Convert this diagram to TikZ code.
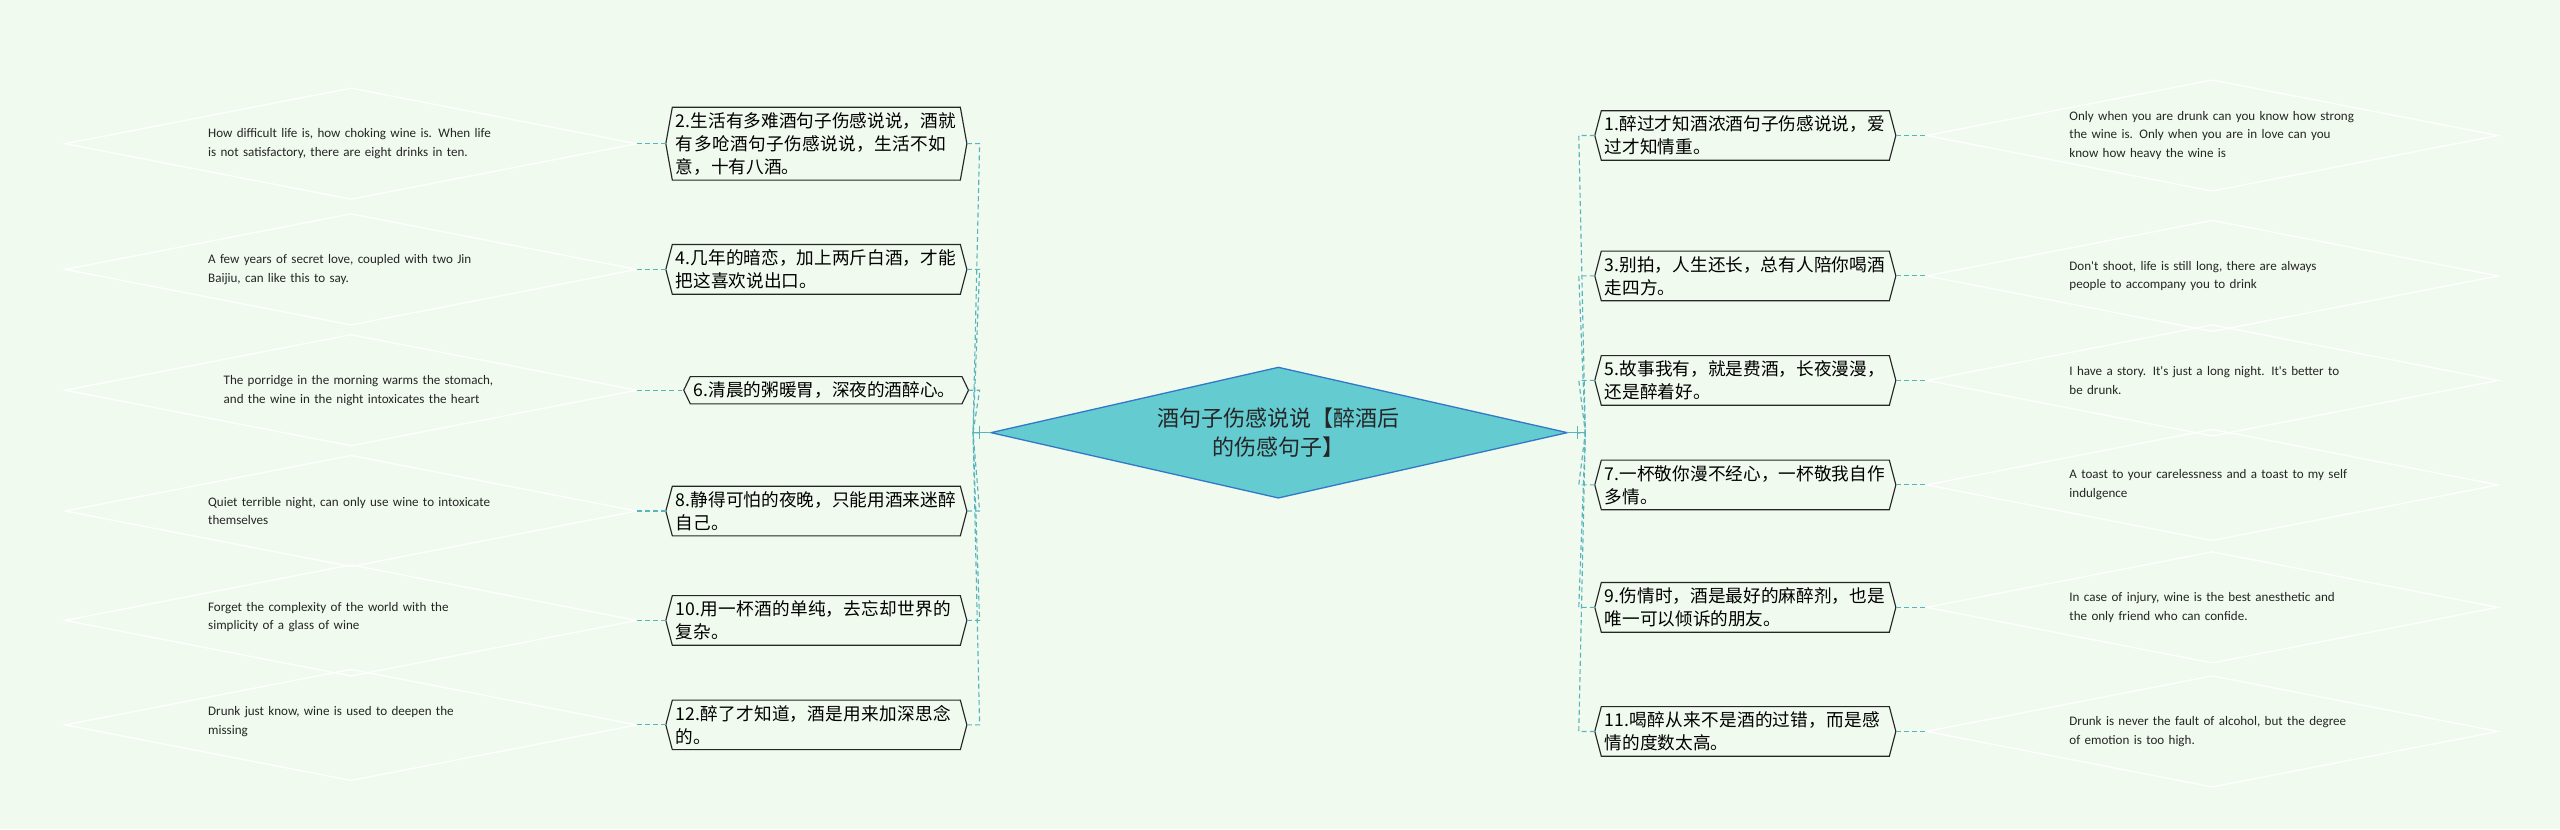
\documentclass[tikz,border=0pt]{standalone}
\usepackage{fontspec}
\setmainfont{Noto Sans CJK SC}
\newfontfamily\enfont{Carlito}
\XeTeXlinebreaklocale "zh"
\XeTeXlinebreakskip=0pt plus 1pt
\hyphenpenalty=10000
\exhyphenpenalty=10000
\usetikzlibrary{calc}
\definecolor{bg}{RGB}{240,250,238}
\definecolor{ln}{RGB}{90,180,190}
\definecolor{cfill}{RGB}{100,204,208}
\definecolor{cline}{RGB}{50,120,200}
\tikzset{
  hexbox/.style={text width=172pt,align=left,inner xsep=2pt,inner ysep=3pt,font=\fontsize{10.8}{14}\selectfont,anchor=center},
  entext/.style={text width=175pt,align=left,inner sep=0pt,font=\enfont\fontsize{8}{11.5}\selectfont,text=black!85},
  conn/.style={draw=ln,dash pattern=on 3pt off 2pt,line width=0.7pt},
  hexline/.style={draw=black!85,line width=0.7pt},
  dline/.style={draw=white,line width=0.8pt}
}
\newcommand{\hexdraw}[1]{\draw[hexline] (#1.north west)--(#1.north east)--([xshift=4pt]#1.east)--(#1.south east)--(#1.south west)--([xshift=-4pt]#1.west)--cycle;}
\newcommand{\dmdraw}[1]{\draw[dline] ($(#1)+(-175pt,0)$)--($(#1)+(0,34pt)$)--($(#1)+(175pt,0)$)--($(#1)+(0,-34pt)$)--cycle;}
\begin{document}
\begin{tikzpicture}[x=1pt,y=-1pt]
\fill[bg] (0,0) rectangle (1568,508);
\useasboundingbox (0,0) rectangle (1568,508);
% center
\fill[cfill,draw=cline,line width=0.8pt] (607,265)--(783,225)--(960,265)--(783,305)--cycle;
\node[font=\fontsize{13.5}{18}\selectfont,align=center,text=black!85] (c) at (783,265) {酒句子伤感说说【醉酒后\\的伤感句子】};
\coordinate (cl) at (600,265);
\coordinate (cr) at (966,265);
\draw[ln,line width=0.8pt] (607,265)--(cl) (600,261)--(600,269) (960,265)--(cr) (966,261)--(966,269);
% left hexes
\node[hexbox] (h2) at (500,88) {2.生活有多难酒句子伤感说说，酒就有多呛酒句子伤感说说，生活不如意，十有八酒。};
\node[hexbox] (h4) at (500,165) {4.几年的暗恋，加上两斤白酒，才能把这喜欢说出口。};
\node[hexbox,text width=162pt] (h6) at (506,239) {6.清晨的粥暖胃，深夜的酒醉心。};
\node[hexbox] (h8) at (500,313) {8.静得可怕的夜晚，只能用酒来迷醉自己。};
\node[hexbox] (h10) at (500,380) {10.用一杯酒的单纯，去忘却世界的复杂。};
\node[hexbox] (h12) at (500,444) {12.醉了才知道，酒是用来加深思念的。};
\foreach \n in {h2,h4,h6,h8,h10,h12}{\hexdraw{\n}}
% right hexes
\node[hexbox] (h1) at (1069,83) {1.醉过才知酒浓酒句子伤感说说，爱过才知情重。};
\node[hexbox] (h3) at (1069,169) {3.别拍，人生还长，总有人陪你喝酒走四方。};
\node[hexbox] (h5) at (1069,233) {5.故事我有，就是费酒，长夜漫漫，还是醉着好。};
\node[hexbox] (h7) at (1069,297) {7.一杯敬你漫不经心，一杯敬我自作多情。};
\node[hexbox] (h9) at (1069,372) {9.伤情时，酒是最好的麻醉剂，也是唯一可以倾诉的朋友。};
\node[hexbox] (h11) at (1069,448) {11.喝醉从来不是酒的过错，而是感情的度数太高。};
\foreach \n in {h1,h3,h5,h7,h9,h11}{\hexdraw{\n}}
% left english
\node[entext] (e2) at (215,88) {How difficult life is, how choking wine is. When life is not satisfactory, there are eight drinks in ten.};
\node[entext] (e4) at (215,165) {A few years of secret love, coupled with two Jin Baijiu, can like this to say.};
\node[entext,text width=170pt] (e6) at (222,239) {The porridge in the morning warms the stomach, and the wine in the night intoxicates the heart};
\node[entext] (e8) at (215,313) {Quiet terrible night, can only use wine to intoxicate themselves};
\node[entext] (e10) at (215,378) {Forget the complexity of the world with the simplicity of a glass of wine};
\node[entext] (e12) at (215,442) {Drunk just know, wine is used to deepen the missing};
% right english
\node[entext] (e1) at (1355,83) {Only when you are drunk can you know how strong the wine is. Only when you are in love can you know how heavy the wine is};
\node[entext] (e3) at (1355,169) {Don't shoot, life is still long, there are always people to accompany you to drink};
\node[entext] (e5) at (1355,233) {I have a story. It's just a long night. It's better to be drunk.};
\node[entext] (e7) at (1355,297) {A toast to your carelessness and a toast to my self indulgence};
\node[entext] (e9) at (1355,372) {In case of injury, wine is the best anesthetic and the only friend who can confide.};
\node[entext] (e11) at (1355,448) {Drunk is never the fault of alcohol, but the degree of emotion is too high.};
\foreach \e/\y in {e2/88,e4/165,e6/239,e8/313,e10/380,e12/444}{
  \coordinate (\e c) at (215,\y); \dmdraw{\e c}}
\foreach \e/\y in {e1/83,e3/169,e5/233,e7/297,e9/372,e11/448}{
  \coordinate (\e c) at (1355,\y); \dmdraw{\e c}}
% connectors
\foreach \h/\e in {h2/e2,h4/e4,h6/e6,h8/e8,h10/e10,h12/e12}{
  \draw[conn] ([xshift=4pt]\h.east) -- ([xshift=4pt]\h.east -| 596,0) -- (596,265) -- (cl);
  \draw[conn] ($(\e c)+(175pt,0)$) -- ([xshift=-4pt]\h.west);}
\foreach \h/\e in {h1/e1,h3/e3,h5/e5,h7/e7,h9/e9,h11/e11}{
  \draw[conn] ([xshift=-4pt]\h.west) -- ([xshift=-4pt]\h.west -| 971,0) -- (971,265) -- (cr);
  \draw[conn] ([xshift=4pt]\h.east) -- ($(\e c)+(-175pt,0)$);}
\end{tikzpicture}
\end{document}
